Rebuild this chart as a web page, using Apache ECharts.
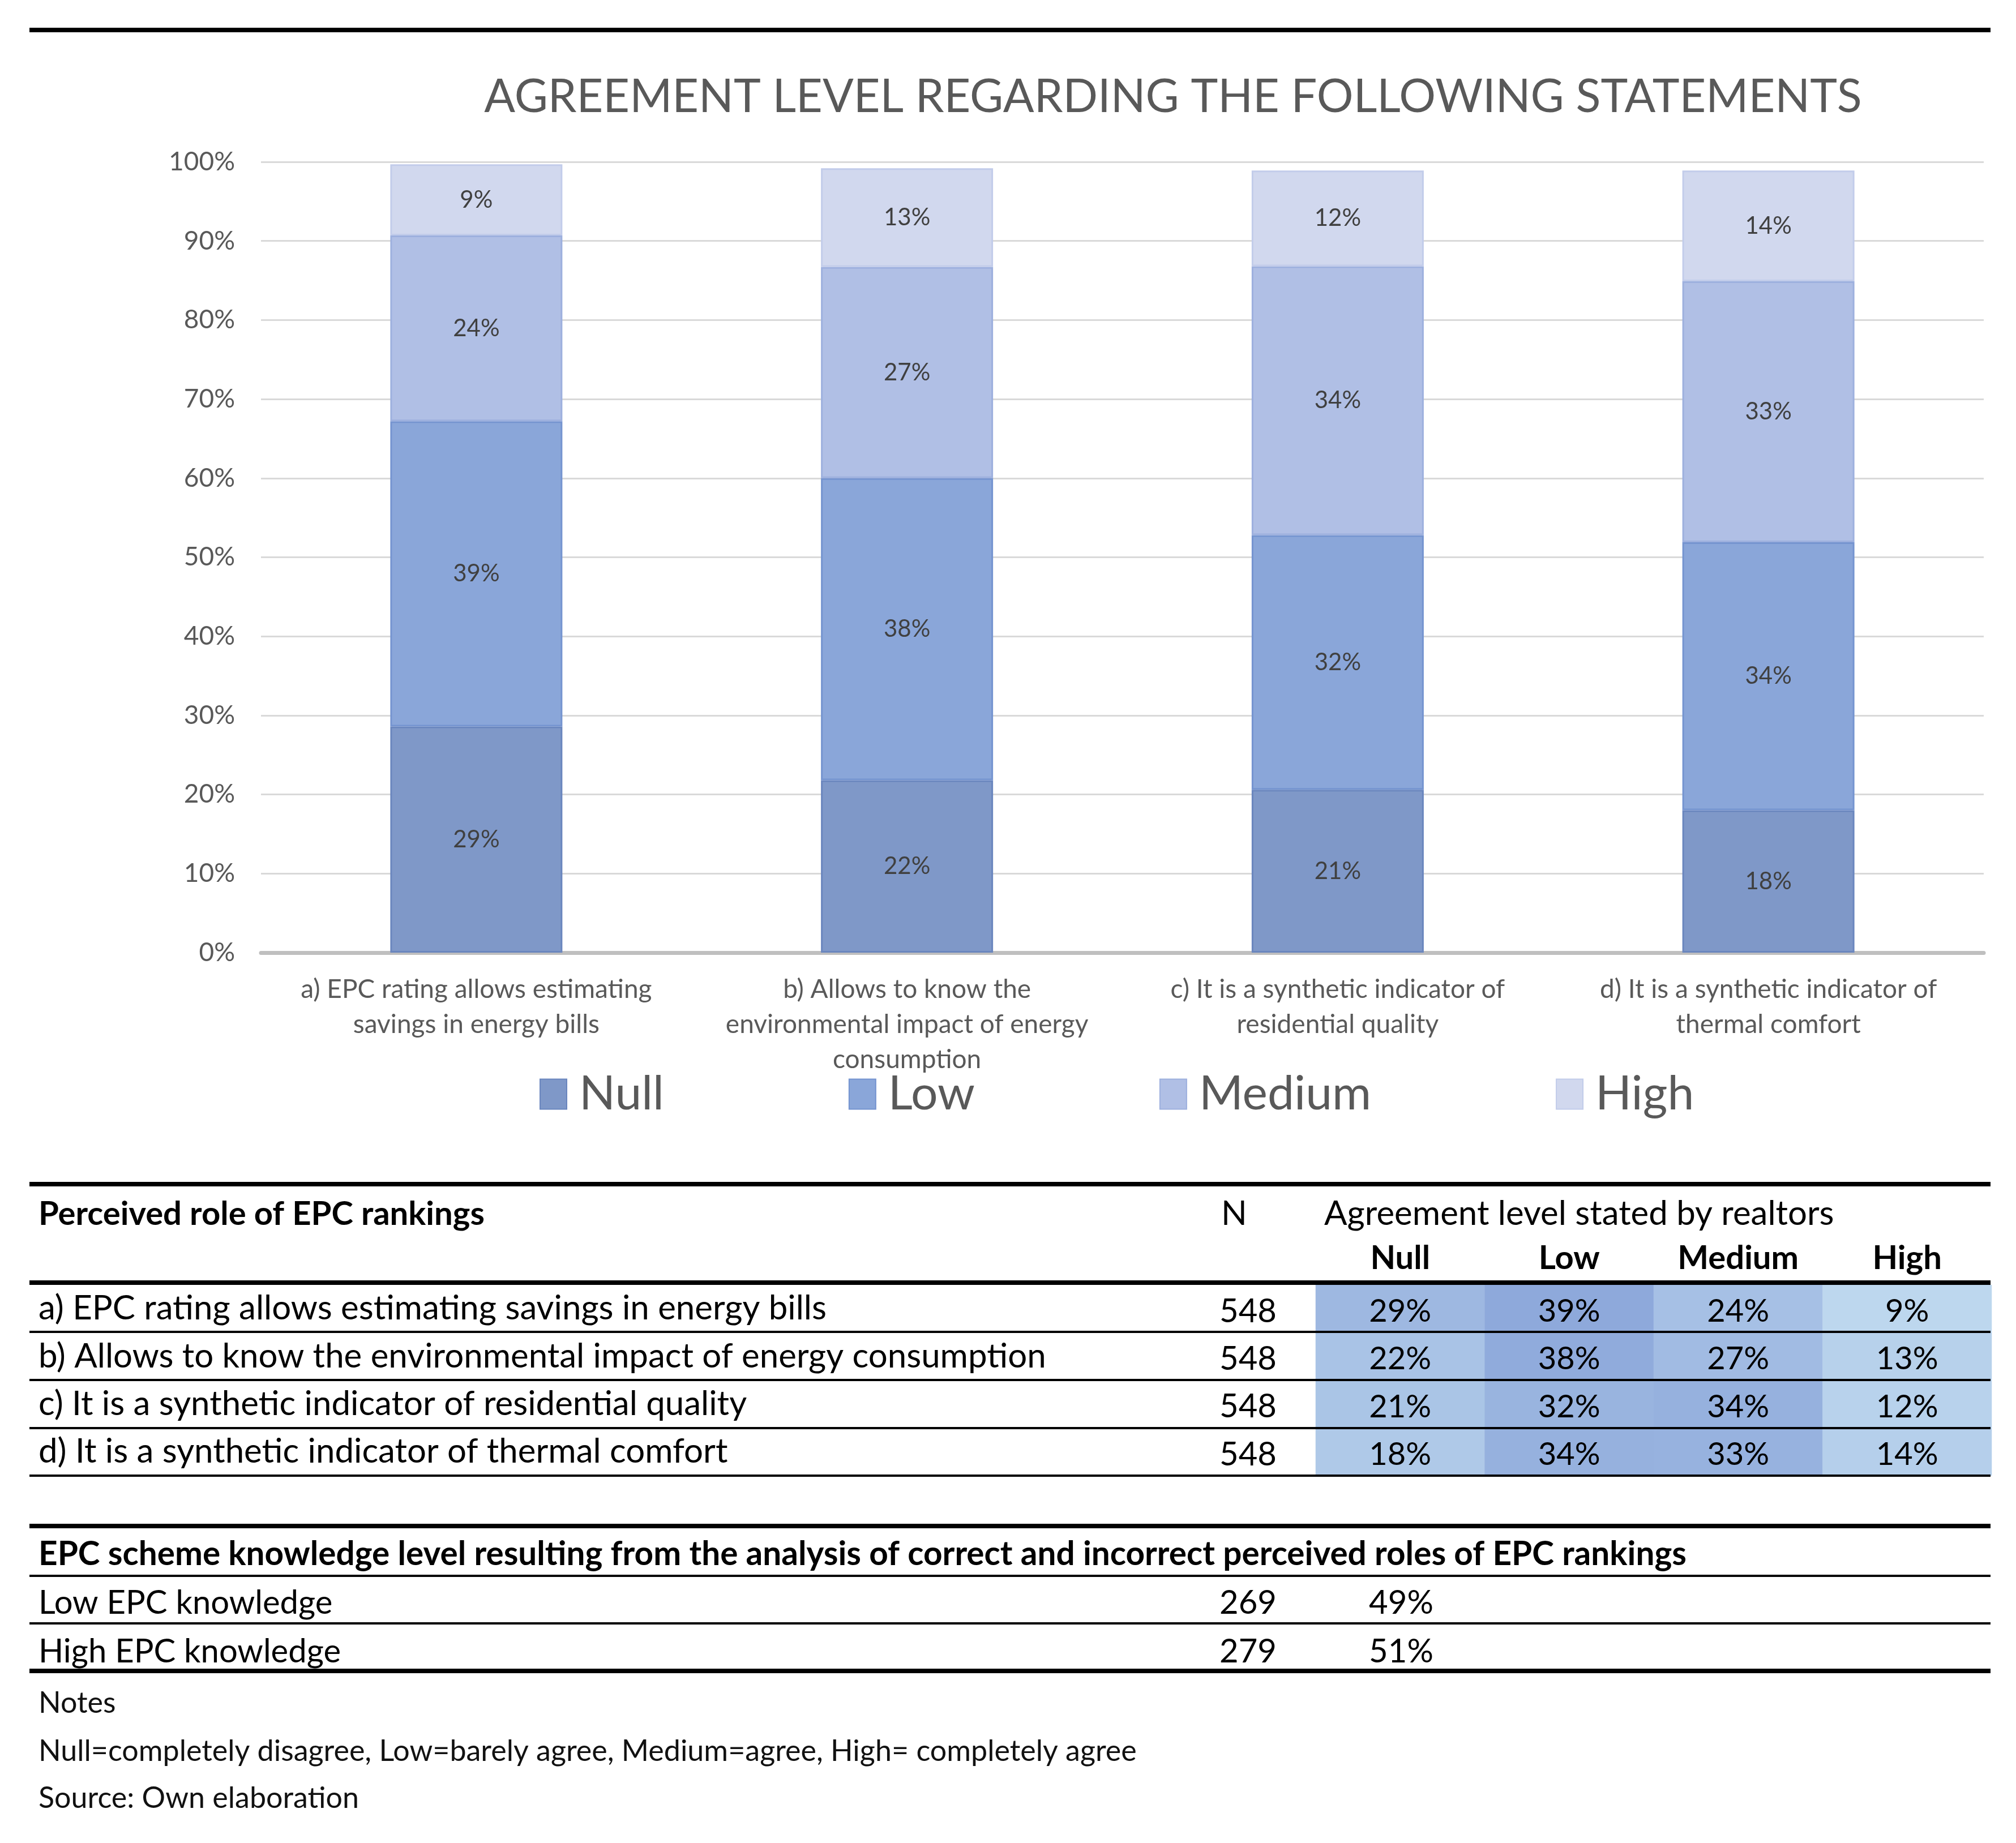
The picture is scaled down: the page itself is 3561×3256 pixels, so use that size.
<!DOCTYPE html>
<html>
<head>
<meta charset="utf-8">
<script src="https://cdn.jsdelivr.net/npm/echarts@6/dist/echarts.min.js"></script>
<style>
html,body{margin:0;padding:0;background:#fff;}
#chart{width:3561px;height:3256px;}
</style>
</head>
<body>
<div id="chart"></div>
<script>
// ---------- data ----------
const title = 'AGREEMENT LEVEL REGARDING THE FOLLOWING STATEMENTS';
const levels = ['Null', 'Low', 'Medium', 'High'];
const statements = [
  'a) EPC rating allows estimating savings in energy bills',
  'b) Allows to know the environmental impact of energy consumption',
  'c) It is a synthetic indicator of residential quality',
  'd) It is a synthetic indicator of thermal comfort'
];
const axisLabels = [
  'a) EPC rating allows estimating\nsavings in energy bills',
  'b) Allows to know the\nenvironmental impact of energy\nconsumption',
  'c) It is a synthetic indicator of\nresidential quality',
  'd) It is a synthetic indicator of\nthermal comfort'
];
// bar segments (share of respondents, %)
const nullVals   = [28.6, 21.8, 20.6, 18.0];
const lowVals    = [38.6, 38.2, 32.2, 33.9];
const mediumVals = [23.5, 26.7, 34.0, 33.0];
const highVals   = [9.0, 12.5, 12.1, 14.0];
const yTicks = [0, 10, 20, 30, 40, 50, 60, 70, 80, 90, 100];
// table values
const tableN      = [548, 548, 548, 548];
const tableNull   = [29, 22, 21, 18];
const tableLow    = [39, 38, 32, 34];
const tableMedium = [24, 27, 34, 33];
const tableHigh   = [9, 13, 12, 14];
const tableHeader = 'Perceived role of EPC rankings';
const nHeader = 'N';
const agreeHeader = 'Agreement level stated by realtors';
const knowHeader = 'EPC scheme knowledge level resulting from the analysis of correct and incorrect perceived roles of EPC rankings';
const knowLabels = ['Low EPC knowledge', 'High EPC knowledge'];
const knowN = [269, 279];
const knowPct = [49, 51];
const notes = ['Notes', 'Null=completely disagree, Low=barely agree, Medium=agree, High= completely agree', 'Source: Own elaboration'];

// ---------- styles / layout ----------
const FONT = 'Lato';
const barColors  = ['#7F98C8', '#8AA6D9', '#B0BFE5', '#D1D8EE'];
const barBorders = ['#6A86BE', '#7594D0', '#9DB0DE', '#C2CCEA'];
const tblLeft = 52, tblRight = 3516, txtX = 68;
const cellTop = 2270, cellH = 337, cellLeft = 2324, cellRight = 3518;
const rowH = cellH / 4;

const graphics = [];
function hline(y, w) {
  graphics.push({type: 'line', shape: {x1: tblLeft, y1: y, x2: tblRight, y2: y},
    style: {stroke: '#000', lineWidth: w}, z: 100});
}
function txt(s, x, y, size, opts) {
  opts = opts || {};
  graphics.push({type: 'text', x: x, y: y, z: 101, style: {
    text: s, fontFamily: FONT, fontSize: size, fontWeight: opts.bold ? 'bold' : 'normal',
    fill: opts.color || '#000', textAlign: opts.align || 'left', textVerticalAlign: 'middle'
  }});
}
// top rule
hline(53, 8);
// chart title
txt(title, 2072, 172, 81, {align: 'center', color: '#595959'});
// table 1
hline(2092, 8);
txt(tableHeader, txtX, 2145, 58, {bold: true});
txt(nHeader, 2180, 2145, 60, {align: 'center'});
txt(agreeHeader, 2339, 2145, 60);
hline(2266, 8);
for (let i = 0; i < statements.length; i++) {
  const yc = cellTop + rowH * (i + 0.5) + 5;
  txt(String(tableN[i]), 2255, yc, 58, {align: 'right'});
}
[2353, 2438, 2523, 2607].forEach(y => hline(y, 4));
// table 2
hline(2696, 8);
txt(knowHeader, txtX, 2746, 58.5, {bold: true});
hline(2784, 4);
const knowY = [2832, 2918];
for (let i = 0; i < knowLabels.length; i++) {
  txt(knowLabels[i], txtX, knowY[i], 58);
  txt(String(knowN[i]), 2255, knowY[i], 58, {align: 'right'});
  txt(knowPct[i] + '%', 2475, knowY[i], 58, {align: 'center'});
}
hline(2868, 4);
hline(2952, 8);
const notesY = [3009, 3094, 3177];
notes.forEach((s, i) => txt(s, txtX, notesY[i], 52, {color: '#111'}));

// heatmap data for the coloured table cells
const tableCols = [tableNull, tableLow, tableMedium, tableHigh];
const heatData = [];
tableCols.forEach((col, c) => col.forEach((v, r) => heatData.push([c, r, v])));

const segs = [nullVals, lowVals, mediumVals, highVals];
const barSeries = levels.map((name, k) => ({
  name: name, type: 'bar', stack: 'total', xAxisIndex: 0, yAxisIndex: 0,
  barWidth: 304, data: segs[k],
  itemStyle: {color: barColors[k], borderColor: barBorders[k], borderWidth: 3},
  label: {show: true, position: 'inside', fontFamily: FONT, fontSize: 42, color: '#404040',
    formatter: p => Math.round(p.value) + '%'},
  emphasis: {disabled: true}
}));

const chart = echarts.init(document.getElementById('chart'), null, {renderer: 'canvas'});
chart.setOption({
  animation: false,
  backgroundColor: '#fff',
  textStyle: {fontFamily: FONT},
  graphic: graphics,
  legend: {
    data: levels, left: 948, top: 1886, icon: 'rect', itemWidth: 47, itemHeight: 53, itemGap: 326,
    textStyle: {fontFamily: FONT, fontSize: 84, color: '#595959', padding: [0, 0, 0, 17]}
  },
  grid: [
    {left: 461, right: 57, top: 286, bottom: 1573, containLabel: false, outerBoundsMode: 'none'},
    {left: cellLeft, right: 3561 - cellRight, top: cellTop, height: cellH, containLabel: false, outerBoundsMode: 'none'}
  ],
  xAxis: [
    {type: 'category', gridIndex: 0, data: axisLabels,
      axisLine: {lineStyle: {color: '#BFBFBF', width: 7}}, axisTick: {show: false},
      axisLabel: {interval: 0, fontFamily: FONT, fontSize: 46, lineHeight: 62, color: '#595959', margin: 34}},
    {type: 'category', gridIndex: 1, data: levels, position: 'top',
      axisLine: {show: false}, axisTick: {show: false}, splitLine: {show: false},
      axisLabel: {fontFamily: FONT, fontSize: 58, fontWeight: 'bold', color: '#000', margin: 18}}
  ],
  yAxis: [
    {type: 'value', gridIndex: 0, min: yTicks[0], max: yTicks[yTicks.length - 1], interval: yTicks[1] - yTicks[0],
      axisLine: {show: false}, axisTick: {show: false},
      splitLine: {lineStyle: {color: '#D9D9D9', width: 3}},
      axisLabel: {formatter: '{value}%', fontFamily: FONT, fontSize: 46, color: '#595959', margin: 46}},
    {type: 'category', gridIndex: 1, data: statements, inverse: true,
      axisLine: {show: false}, axisTick: {show: false}, splitLine: {show: false},
      axisLabel: {align: 'left', margin: cellLeft - txtX, fontFamily: FONT, fontSize: 60, color: '#000', interval: 0}}
  ],
  visualMap: {show: false, type: 'continuous', seriesIndex: 4, dimension: 2, min: 9, max: 39,
    inRange: {color: ['#BDD7EE', '#8EA9DB']}},
  series: barSeries.concat([{
    type: 'heatmap', xAxisIndex: 1, yAxisIndex: 1, data: heatData,
    label: {show: true, fontFamily: FONT, fontSize: 56, color: '#000', offset: [0, 5],
      formatter: p => p.value[2] + '%'},
    itemStyle: {borderWidth: 0},
    emphasis: {disabled: true}
  }])
});
</script>
</body>
</html>
